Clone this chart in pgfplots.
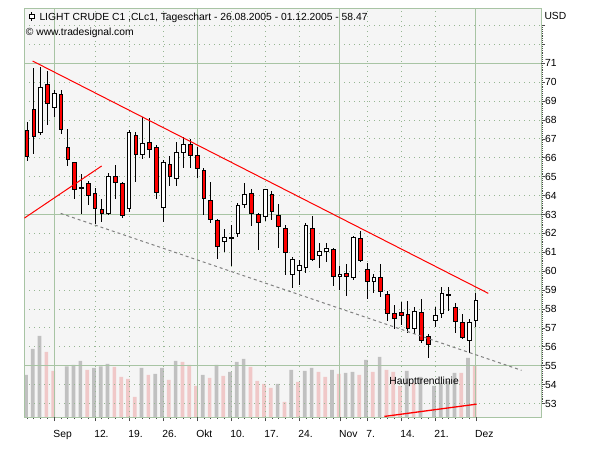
\documentclass[border=0pt]{standalone}
\usepackage{pgfplots}
\pgfplotsset{compat=1.18}
\usepackage{pgfplotstable}
\usepackage{fontspec}
\setmainfont{Liberation Sans}
\definecolor{gridgreen}{RGB}{168,196,164}
\definecolor{dotgreen}{RGB}{150,182,146}
\definecolor{bgcol}{RGB}{245,245,245}
\definecolor{volgrey}{RGB}{192,192,192}
\definecolor{volpink}{RGB}{240,200,200}
\definecolor{candlered}{RGB}{255,0,0}

\newcommand\candleicon{{\setlength\fboxsep{0pt}\setlength\fboxrule{0.9pt}\makebox[5.4pt][l]{\makebox[0pt][l]{\hspace{2.25pt}\rule[-0.3pt]{0.9pt}{9pt}}\raisebox{2.4pt}{\fcolorbox{black}{white}{\rule{0pt}{3.2pt}\rule{3.6pt}{0pt}}}}}}

% trading-day index: 0 = 26.08.2005, 4 = 01.09., 25 = 03.10., 46 = 01.11., 66 = 01.12.
\pgfplotstableread{
x o h l c
0 67.45 67.88 65.83 66.08
1 68.56 70.77 66.22 67.14
2 67.35 70.80 67.21 69.73
3 69.89 70.59 67.74 68.88
4 68.67 69.59 68.18 69.41
5 69.36 69.59 67.26 67.51
6 66.55 67.52 65.58 65.92
7 65.76 65.80 63.84 64.33
8 64.40 65.16 63.04 64.44
9 64.65 64.79 63.50 64.01
10 64.12 64.42 62.51 63.31
11 63.27 63.82 62.62 63.04
12 63.04 65.20 62.97 65.02
13 65.02 65.62 63.82 64.70
14 64.65 64.70 62.80 62.97
15 63.33 67.49 63.15 67.35
16 67.19 67.35 64.74 66.18
17 66.18 68.16 65.94 66.77
18 66.82 68.09 66.01 66.45
19 66.55 66.68 63.82 64.16
20 63.38 65.88 62.62 65.76
21 65.65 66.11 64.51 65.02
22 64.91 66.85 64.51 66.29
23 66.29 67.12 65.48 66.71
24 66.71 66.99 65.44 66.15
25 66.13 66.57 64.95 65.44
26 65.34 65.48 62.97 63.86
27 63.75 64.74 62.53 62.74
28 62.71 62.75 60.66 61.30
29 61.58 62.22 61.02 61.79
30 61.74 62.44 60.29 61.78
31 61.99 63.59 61.83 63.49
32 63.54 64.65 63.34 64.07
33 64.12 64.33 62.39 63.06
34 62.99 63.06 61.12 62.59
35 62.89 64.35 62.67 64.33
36 64.08 64.26 62.71 63.17
37 62.96 63.56 61.23 62.36
38 62.27 62.44 59.80 60.98
39 59.82 60.77 59.13 60.65
40 60.03 60.59 59.27 60.31
41 60.20 62.53 59.92 62.43
42 62.27 62.92 60.56 60.63
43 60.84 61.47 60.19 61.03
44 61.05 61.51 60.50 61.23
45 61.16 61.24 59.23 59.71
46 59.72 60.28 59.01 59.85
47 59.89 60.38 58.71 59.72
48 59.68 61.85 59.52 61.77
49 61.74 62.13 60.47 60.57
50 60.10 60.42 58.53 59.45
51 59.46 59.87 58.86 59.69
52 59.69 60.36 58.65 58.94
53 58.79 58.97 57.38 57.77
54 57.77 58.21 56.92 57.51
55 57.81 58.39 57.15 57.67
56 57.72 58.42 56.71 56.96
57 56.96 58.12 56.66 57.88
58 57.84 58.51 56.18 56.36
59 56.57 56.68 55.39 56.13
60 57.40 58.12 57.07 57.67
61 57.77 59.15 57.54 58.83
62 58.72 59.18 57.91 58.76
63 58.09 58.34 56.71 57.33
64 57.29 57.72 56.41 56.50
65 56.33 57.45 55.69 57.31
66 57.38 58.83 57.03 58.47
}\candles

\pgfplotstableread{
x v
0 42
1 68
2 81
6 50.7
7 52
8 56
10 49
11 50.7
12 53
17 49
19 43
20 49
22 56
26 42
28 52
30 45
31 55
32 58
37 33
39 47
41 46
42 49
45 47
47 44
48 45
50 57
52 60
56 46
58 40
60 31
61 34
62 36
63 44
65 59
}\volgreytab

\pgfplotstableread{
x v
3 65
4 46
9 47
13 50
14 40
15 38
16 20
18 42
21 37
23 55
24 52
25 31
27 39
29 41
33 50
34 36
35 33
36 29
38 15
40 35
43 45
44 40
46 43
49 42
51 45
53 47
54 45
55 31
57 34
64 44
66 51
}\volpinktab

\pgfplotsset{base/.style={scale only axis, width=516.7pt, height=408.7pt,
  xmin=-0.41, xmax=75.57, at={(0pt,0pt)}, anchor=south west}}

\begin{document}
\begin{tikzpicture}[font=\fontsize{10.3}{12}\selectfont]
\useasboundingbox (-24.3pt,-33pt) rectangle (575.7pt,417pt);

% volume
\begin{axis}[base, ymin=0, ymax=408.7, axis line style={draw=none},
  xtick=\empty, ytick=\empty, axis background/.style={fill=bgcol},
  ybar, bar width=3.7pt]
\addplot[fill=volgrey, draw=none, bar shift=-1.1pt] table[x=x,y=v]{\volgreytab};
\addplot[fill=volpink, draw=none, bar shift=-1.1pt] table[x=x,y=v]{\volpinktab};
\end{axis}

% price axis, grid, wicks
\begin{axis}[base, ymin=52.29, ymax=73.91,
  axis line style={draw=gridgreen, line width=1pt},
  xtick={4,10,15,20,25,30,35,40,46,50,55,60,66},
  xticklabels={Sep,12.,19.,26.,Okt,10.,17.,24.,Nov,7.,14.,21.,Dez},
  minor xtick={0,1,...,66},
  ytick={53,54,...,73},
  yticklabels={53,54,55,56,57,58,59,60,61,62,63,64,65,66,67,68,69,70,71,,},
  minor y tick num=9,
  xtick pos=left, ytick pos=right, yticklabel pos=right,
  tick align=outside,
  major tick length=4pt, minor tick length=2pt,
  tick style={black!70, line width=0.8pt},
  grid=major,
  major grid style={draw=dotgreen, dash pattern=on 1pt off 4pt, line width=1pt},
  extra x ticks={4,25,46,66}, extra x tick labels={},
  extra x tick style={grid=major, major grid style={draw=gridgreen, solid, line width=1pt}},
  extra y ticks={55,63,71}, extra y tick labels={},
  extra y tick style={grid=major, major grid style={draw=gridgreen, solid, line width=1pt}},
  xticklabel style={anchor=north west, inner sep=0pt, xshift=-1pt, yshift=-9pt},
  yticklabel style={anchor=west, inner sep=0pt},
  /pgf/number format/assume math mode=true]
\addplot[draw=none, mark=none, forget plot, error bars/.cd, y dir=both, y explicit,
  error mark=none, error bar style={draw=black, line width=1pt, solid}]
  table[x=x, y expr={(\thisrow{h}+\thisrow{l})/2}, y error expr={(\thisrow{h}-\thisrow{l})/2}] {\candles};
\end{axis}

% candle bodies
\begin{axis}[base, ymin=52.29, ymax=73.91, hide axis, ybar stacked, bar width=3.7pt]
\addplot[draw=none, fill=none] table[x=x, y expr={min(\thisrow{o},\thisrow{c})}] {\candles};
\addplot[draw=black, fill=white, line width=0.9pt] table[x=x, y expr={max(\thisrow{c}-\thisrow{o},0)}] {\candles};
\addplot[draw=black, fill=candlered, line width=0.9pt] table[x=x, y expr={max(\thisrow{o}-\thisrow{c},0)}] {\candles};
\end{axis}

% trend lines
\begin{axis}[base, ymin=52.29, ymax=73.91, hide axis]
\addplot[red, line width=1pt] coordinates {(0.82,71.12) (67.82,58.83)};
\addplot[red, line width=1pt] coordinates {(-0.41,62.81) (10.97,65.57)};
\addplot[gray, line width=1pt, dash pattern=on 3pt off 3pt] coordinates {(4.94,63.06) (72.7,54.76)};
\addplot[red, line width=1.3pt] coordinates {(52.53,52.32) (66.1,52.97)};
\node[anchor=base west, inner sep=0pt] at (axis cs:53.26,54.03) {Haupttrendlinie};
\end{axis}

\node[anchor=base west, inner sep=0pt] at (4.7pt,396.3pt) {\candleicon\hspace{4.9pt}LIGHT CRUDE C1 ,CLc1, Tageschart - 26.08.2005 - 01.12.2005 - 58.47};
\node[anchor=base west, inner sep=0pt] at (1.4pt,381.7pt) {© www.tradesignal.com};
\node[anchor=base west, inner sep=0pt] at (520pt,397pt) {USD};
\end{tikzpicture}
\end{document}
